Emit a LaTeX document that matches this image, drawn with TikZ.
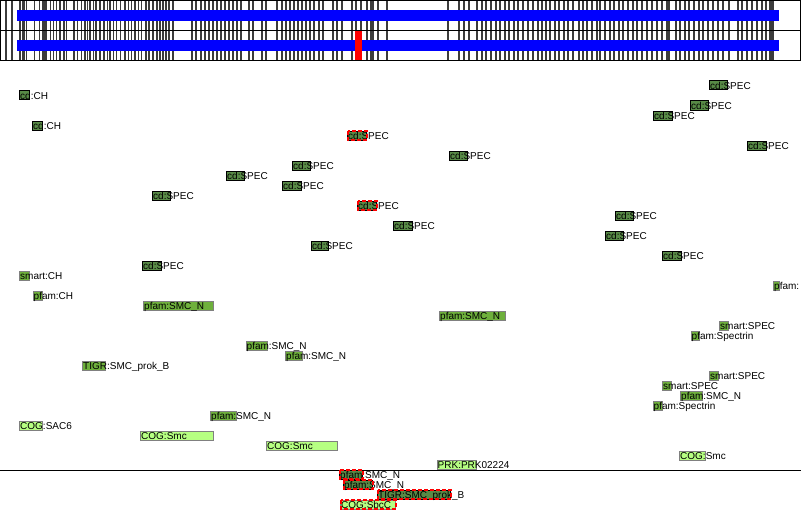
\documentclass[tikz,border=0pt]{standalone}
\usepackage{fontspec}
\setmainfont{Liberation Sans}
\definecolor{cdgreen}{RGB}{88,138,70}
\definecolor{pfgreen}{RGB}{110,176,60}
\definecolor{coggreen}{RGB}{182,255,130}
\definecolor{tickgray}{RGB}{60,60,60}
\tikzset{
  cdbox/.style={fill=cdgreen,draw=black,line width=1pt},
  pfbox/.style={fill=pfgreen,draw=gray,line width=1pt},
  cogbox/.style={fill=coggreen,draw=gray,line width=1pt},
  hitbox/.style={draw=red,line width=2pt,dash pattern=on 4pt off 2pt},
  lbl/.style={anchor=base west,inner sep=0pt,font=\fontsize{10}{12}\selectfont},
  tick/.style={draw=tickgray,line width=1.1pt},
  frame/.style={draw=black,line width=1pt},
  seqbar/.style={fill=blue},
  hitbar/.style={fill=red}
}
% #1 name, #2 box style, #3 x1, #4 x2, #5 top y, #6 text
\newcommand\featbox[6]{%
  \path[#2] (#3+0.5,#5+0.5) rectangle (#4-0.5,#5+9.5);
  \node[lbl] (#1) at (#3+1,#5+9.2) {#6};
}
\begin{document}
\begin{tikzpicture}[x=1pt,y=-1pt]
\useasboundingbox (0,0) rectangle (801,511);
\clip (0,0) rectangle (801,511);
\fill[white] (0,0) rectangle (801,511);
% ticks in the top panel
\foreach \t in {6,12,19.3,20.7,22.3,24,26.7,34.3,39.3,42.3,43.3,45,46.7,50.7,53.3,56.7,60,64,66.7,74,77.3,81.7,85,87.3,90,93.3,96,100,104,107.3,110,113.3,116.7,120.7,125,128.3,131.7,135,138.3,141.7,146,149,
  153,157,160,163,166,169,173,192,196,201,205,209,213,217,221,225,229,233,237,241,249,253,262,266,
  277,282,286,290,294,298,302,306,310,314,319,323,333,337,342,352,356,361,367,371,373,378,387,
  448,459,464,469,477,482,486,491,496,500,505,509,514,518,523,528,533,538,
  542,546,550,555,559,564,568,573,579,583,587,592,597,600,605,610,614,619,623,628,633,637,642,647,652,657,662,667,669,676,680,685,689,694,699,703,708,713,718,723,729,738,742,747,752,757,762,766,770,771,773}
  {\path[tick] (\t,0) -- (\t,60);}
\path[seqbar] (17,10) rectangle (779,21);
\path[seqbar] (17,40) rectangle (779,51);
\path[hitbar] (355,30) rectangle (361.5,60);
\path[frame] (0.5,0.5) rectangle (800.5,60.5);
\path[frame] (0,30.5) -- (801,30.5);
% features
\featbox{f1}{cdbox}{19}{30}{90.5}{cd:CH}
\featbox{f2}{cdbox}{32}{43}{120.5}{cd:CH}
\featbox{f3}{cdbox}{347}{367}{130.5}{cd:SPEC}
\featbox{f4}{cdbox}{292}{311}{160.5}{cd:SPEC}
\featbox{f5}{cdbox}{226}{245}{170.5}{cd:SPEC}
\featbox{f6}{cdbox}{282}{302}{180.5}{cd:SPEC}
\featbox{f7}{cdbox}{152}{171}{190.5}{cd:SPEC}
\featbox{f8}{cdbox}{357}{377}{200.5}{cd:SPEC}
\featbox{f9}{cdbox}{393}{413}{220.5}{cd:SPEC}
\featbox{f10}{cdbox}{311}{329}{240.5}{cd:SPEC}
\featbox{f11}{cdbox}{142}{162}{260.5}{cd:SPEC}
\featbox{f12}{pfbox}{19}{30}{270.5}{smart:CH}
\featbox{f13}{cdbox}{709}{728}{80.5}{cd:SPEC}
\featbox{f14}{cdbox}{690}{709}{100.5}{cd:SPEC}
\featbox{f15}{cdbox}{653}{673}{110.5}{cd:SPEC}
\featbox{f16}{cdbox}{747}{767}{140.5}{cd:SPEC}
\featbox{f17}{cdbox}{449}{468}{150.5}{cd:SPEC}
\featbox{f18}{cdbox}{615}{634}{210.5}{cd:SPEC}
\featbox{f19}{cdbox}{605}{624}{230.5}{cd:SPEC}
\featbox{f20}{cdbox}{662}{682}{250.5}{cd:SPEC}
\featbox{f21}{pfbox}{773}{780}{280.5}{pfam:}
\featbox{f22}{pfbox}{32.5}{43}{290.5}{pfam:CH}
\featbox{f23}{pfbox}{143}{214}{300.5}{pfam:SMC\_N}
\featbox{f24}{pfbox}{245.5}{268}{340.5}{pfam:SMC\_N}
\featbox{f25}{pfbox}{285}{303}{350.5}{pfam:SMC\_N}
\featbox{f26}{pfbox}{82}{106}{360.5}{TIGR:SMC\_prok\_B}
\featbox{f27}{pfbox}{210}{237}{410.5}{pfam:SMC\_N}
\featbox{f28}{cogbox}{19}{43}{420.5}{COG:SAC6}
\featbox{f29}{cogbox}{140}{214}{430.5}{COG:Smc}
\featbox{f30}{cogbox}{266}{338}{440.5}{COG:Smc}
\featbox{f31}{pfbox}{439}{506}{310.5}{pfam:SMC\_N}
\featbox{f32}{pfbox}{719}{729}{320.5}{smart:SPEC}
\featbox{f33}{pfbox}{690.5}{700}{330.5}{pfam:Spectrin}
\featbox{f34}{pfbox}{709}{719}{370.5}{smart:SPEC}
\featbox{f35}{pfbox}{662}{672}{380.5}{smart:SPEC}
\featbox{f36}{pfbox}{680}{703}{390.5}{pfam:SMC\_N}
\featbox{f37}{pfbox}{652.5}{663}{400.5}{pfam:Spectrin}
\featbox{f38}{cogbox}{679}{706}{450.5}{COG:Smc}
\featbox{f39}{cogbox}{436.5}{477}{459.5}{PRK:PRK02224}
% separator
\path[frame] (0,470.5) -- (801,470.5);
% hits below the separator
\featbox{f40}{cdbox}{339}{363}{469.5}{pfam:SMC\_N}
\featbox{f41}{cdbox}{343}{373}{479.5}{pfam:SMC\_N}
\featbox{f42}{cdbox}{377}{451}{489.5}{TIGR:SMC\_prok\_B}
\featbox{f43}{cogbox}{340}{396}{499.5}{COG:SbcC}
% red dashed outlines of hits
\path[hitbox] (347.5,131) rectangle (366.5,140);
\path[hitbox] (357.5,201) rectangle (376.5,210);
\path[hitbox] (339.5,470) rectangle (362.5,479);
\path[hitbox] (343.5,480) rectangle (372.5,489);
\path[hitbox] (377.5,490) rectangle (450.5,499);
\path[hitbox] (340.5,500) rectangle (395.5,509);
\end{tikzpicture}
\end{document}
